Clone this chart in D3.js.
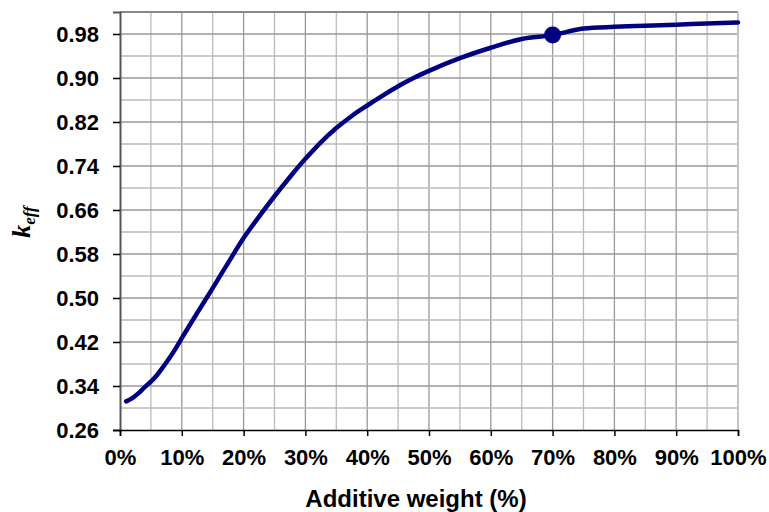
<!DOCTYPE html>
<html lang="en">
<head>
  <meta charset="UTF-8" />
  <script src="https://d3js.org/d3.v7.min.js"></script>
  <title>k_eff vs additive weight</title>
  <style>
    body { margin: 0; background: #fff; }
  </style>
</head>
<body>
<script type="text/javascript">
// additive weight (%) and k_eff
var weight = [1, 2, 3, 4, 5, 6, 7, 8, 9, 10, 12.5, 15, 17.5, 20, 22.5, 25, 27.5, 30, 32.5, 35, 37.5, 40, 42.5, 45, 47.5, 50, 55, 60, 65, 70, 75, 80, 85, 90, 95, 100];
var keff = [0.312, 0.318, 0.327, 0.338, 0.348, 0.360, 0.375, 0.391, 0.408, 0.427, 0.473, 0.518, 0.564, 0.609, 0.648, 0.685, 0.720, 0.753, 0.783, 0.809, 0.831, 0.850, 0.868, 0.885, 0.900, 0.913, 0.936, 0.955, 0.971, 0.978, 0.990, 0.993, 0.995, 0.997, 0.999, 1.001];
var markWeight = [70];
var markKeff = [0.978];
var yTicks = [0.26, 0.34, 0.42, 0.50, 0.58, 0.66, 0.74, 0.82, 0.90, 0.98];
var xTicks = [0, 10, 20, 30, 40, 50, 60, 70, 80, 90, 100];

var margin = {top: 12, right: 31, left: 120, bottom: 82};
var width = 769 - margin.left - margin.right;
var height = 512 - margin.top - margin.bottom;
var sans = "'Liberation Sans', Arial, sans-serif";

var svg = d3.select("body").append("svg").attr("width", 769).attr("height", 512);
var ctrl = svg.append("g").attr("transform", "translate(" + margin.left + "," + margin.top + ")");

var x = d3.scaleLinear().domain([0, 100]).range([0, width]);
var y = d3.scaleLinear().domain([0.26, 1.02]).range([height, 0]);

// grid: vertical every 5%, horizontal every 0.04
ctrl.append("g").selectAll("line").data(d3.range(5, 100, 5)).enter().append("line")
  .attr("x1", function(d){ return x(d); }).attr("x2", function(d){ return x(d); })
  .attr("y1", 0).attr("y2", height)
  .attr("stroke", function(d){ return d % 10 === 0 ? "#999" : "#bbb"; }).attr("stroke-width", 1.3);
ctrl.append("g").selectAll("line").data(d3.range(0.30, 1.0, 0.04)).enter().append("line")
  .attr("x1", 0).attr("x2", width)
  .attr("y1", function(d){ return y(d); }).attr("y2", function(d){ return y(d); })
  .attr("stroke", function(d, i){ return i % 2 === 0 ? "#bbb" : "#999"; }).attr("stroke-width", 1.3);

// frame
ctrl.append("line").attr("x1", 0).attr("x2", width).attr("y1", 0).attr("y2", 0).attr("stroke", "#888").attr("stroke-width", 2);
ctrl.append("line").attr("x1", width).attr("x2", width).attr("y1", 0).attr("y2", height).attr("stroke", "#c4c4c4").attr("stroke-width", 2);

// axes
var yAxis = ctrl.append("g")
  .call(d3.axisLeft(y).tickValues(yTicks).tickFormat(d3.format(".2f")).tickSize(7).tickPadding(14));
yAxis.select(".domain").attr("stroke", "#555").attr("stroke-width", 2);
yAxis.selectAll(".tick line").attr("stroke", "#000").attr("stroke-width", 1.5);
yAxis.selectAll("text").style("font-family", sans).style("font-size", "22px").style("font-weight", "bold").attr("fill", "#000");

var xAxis = ctrl.append("g").attr("transform", "translate(0," + height + ")")
  .call(d3.axisBottom(x).tickValues(xTicks).tickFormat(function(d){ return d + "%"; }).tickSize(6).tickPadding(13));
xAxis.select(".domain").attr("stroke", "#000").attr("stroke-width", 1.5);
xAxis.selectAll(".tick line").attr("stroke", "#000").attr("stroke-width", 1.5);
xAxis.selectAll("text").style("font-family", sans).style("font-size", "22px").style("font-weight", "bold").attr("fill", "#000");

// curve
var pts = weight.map(function(w, i){ return [w, keff[i]]; });
var line = d3.line().x(function(d){ return x(d[0]); }).y(function(d){ return y(d[1]); }).curve(d3.curveMonotoneX);
ctrl.append("path").datum(pts).attr("d", line)
  .attr("fill", "none").attr("stroke", "#000080").attr("stroke-width", 4.5).attr("stroke-linecap", "round");

ctrl.selectAll(".mark").data(markWeight).enter().append("circle")
  .attr("cx", function(d){ return x(d); }).attr("cy", function(d, i){ return y(markKeff[i]); })
  .attr("r", 8.5).attr("fill", "#000080");

// titles
svg.append("text").attr("x", 416).attr("y", 507)
  .attr("text-anchor", "middle")
  .style("font-family", sans).style("font-size", "24px").style("font-weight", "bold")
  .text("Additive weight (%)");

var yt = svg.append("text").attr("transform", "translate(30,222) rotate(-90)")
  .attr("text-anchor", "middle")
  .style("font-family", "'Liberation Serif', 'Times New Roman', serif")
  .style("font-style", "italic").style("font-weight", "bold").style("font-size", "26px");
yt.append("tspan").text("k");
yt.append("tspan").style("font-size", "17px").attr("dy", 5).text("eff");
</script>
</body>
</html>
